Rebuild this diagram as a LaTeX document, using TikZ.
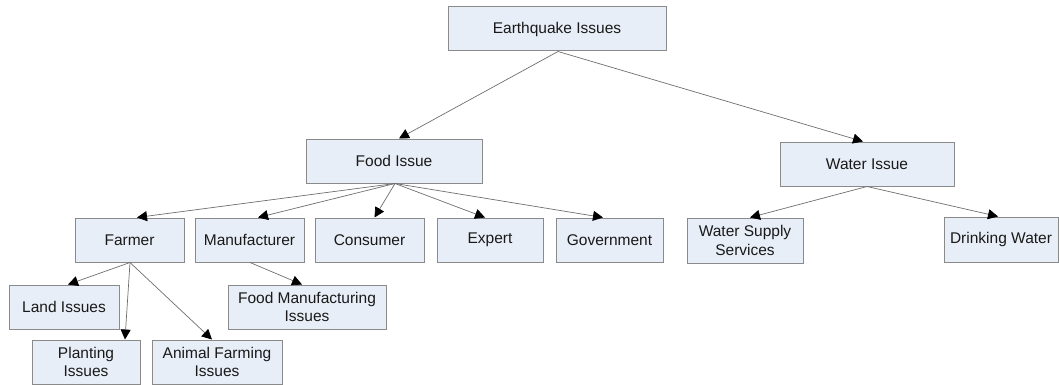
\documentclass[tikz,border=0pt]{standalone}
\usepackage{fontspec}
\setmainfont{Liberation Sans}
\usetikzlibrary{arrows.meta}
\definecolor{boxfill}{HTML}{E8EEF7}
\definecolor{boxline}{HTML}{8A8A8A}
\definecolor{conn}{HTML}{6E6E6E}
\tikzset{
  bx/.style={draw=boxline, line width=1pt, fill=boxfill, inner sep=0pt, align=center,
    font=\fontsize{15.5}{18.5}\selectfont, text=black!90},
  conn/.style={draw=conn, line width=0.7pt, -{Triangle[length=10pt,width=10pt,color=black]}}
}
\begin{document}
\begin{tikzpicture}[x=1pt,y=-1pt]
\useasboundingbox (0,0) rectangle (1059,385);
\node[bx, minimum width=218pt, minimum height=44pt] (eq) at (557,29) {Earthquake Issues};
\node[bx, minimum width=176pt, minimum height=44pt] (food) at (394,161) {Food Issue};
\node[bx, minimum width=174pt, minimum height=44pt] (water) at (867,164) {Water Issue};
\node[bx, minimum width=109pt, minimum height=44pt] (farmer) at (129.5,240) {Farmer};
\node[bx, minimum width=109pt, minimum height=44pt] (manu) at (249.5,240) {Manufacturer};
\node[bx, minimum width=109pt, minimum height=44pt] (cons) at (369.5,240) {Consumer};
\node[bx, minimum width=106pt, minimum height=44pt] (expert) at (490,240) {Expert};
\node[bx, minimum width=107pt, minimum height=44pt] (gov) at (609.5,240) {Government};
\node[bx, minimum width=116pt, minimum height=45pt] (wss) at (745,240.5) {Water Supply\\Services};
\node[bx, minimum width=114pt, minimum height=45pt] (drink) at (1001,239.5) {Drinking Water};
\node[bx, minimum width=110pt, minimum height=44pt] (land) at (64,307) {Land Issues};
\node[bx, minimum width=158pt, minimum height=44pt] (fmi) at (307,307) {Food Manufacturing\\Issues};
\node[bx, minimum width=108pt, minimum height=44pt] (plant) at (86,362) {Planting\\Issues};
\node[bx, minimum width=130pt, minimum height=44pt] (animal) at (217,362) {Animal Farming\\Issues};

\draw[conn] ([xshift=1pt]eq.south) -- ([xshift=5pt]food.north);
\draw[conn] ([xshift=1pt]eq.south) -- ([xshift=-4pt]water.north);
\draw[conn] ([xshift=1pt]food.south) -- ([xshift=7.5pt]farmer.north);
\draw[conn] ([xshift=1pt]food.south) -- ([xshift=8.5pt]manu.north);
\draw[conn] ([xshift=1pt]food.south) -- ([xshift=5pt]cons.north);
\draw[conn] ([xshift=1pt]food.south) -- ([xshift=-5pt]expert.north);
\draw[conn] ([xshift=1pt]food.south) -- ([xshift=-6.5pt]gov.north);
\draw[conn] ([xshift=0.5pt]farmer.south) -- ([xshift=4pt]land.north);
\draw[conn] ([xshift=0.5pt]farmer.south) -- ([xshift=39pt]plant.north);
\draw[conn] ([xshift=0.5pt]farmer.south) -- ([xshift=-5pt]animal.north);
\draw[conn] ([xshift=0.5pt]manu.south) -- ([xshift=-5pt]fmi.north);
\draw[conn] (water.south) -- ([xshift=5pt]wss.north);
\draw[conn] (water.south) -- ([xshift=-3pt]drink.north);
\end{tikzpicture}
\end{document}
